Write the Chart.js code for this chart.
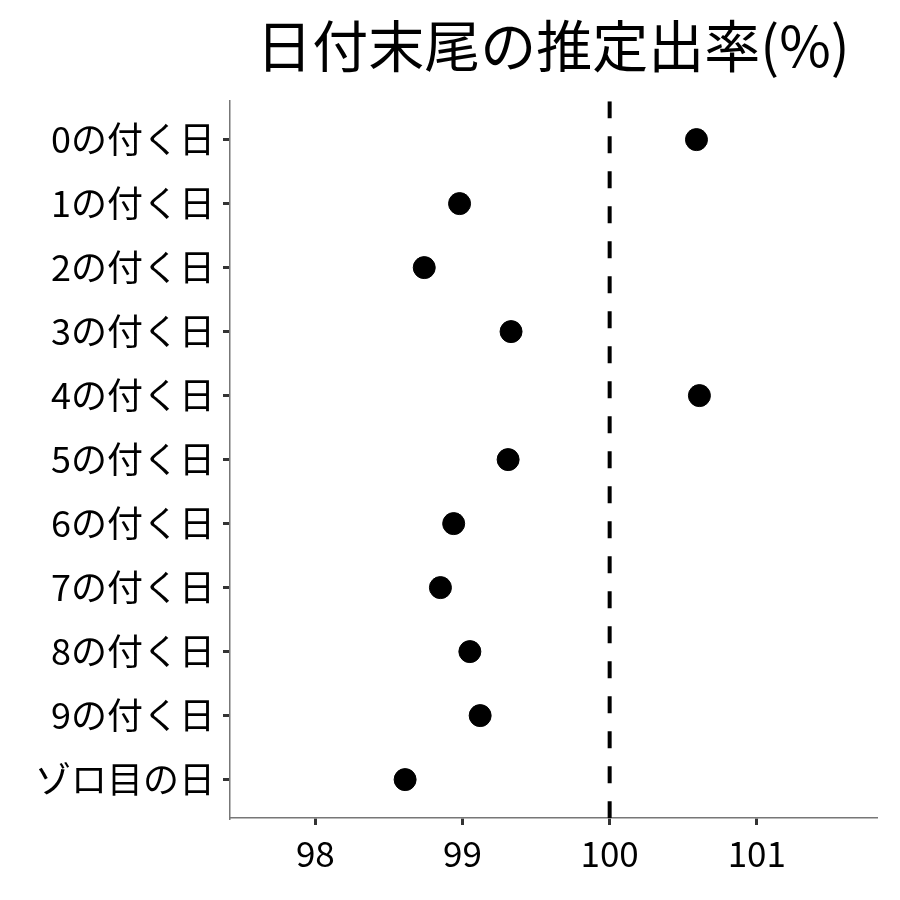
<!DOCTYPE html>
<html>
<head>
<meta charset="utf-8">
<script src="https://cdn.jsdelivr.net/npm/chart.js@4"></script>
<style>
  body { margin: 0; background: #fff; }
</style>
</head>
<body>
<canvas id="rateChart" width="900" height="900"></canvas>
<script>
const rateChart = document.getElementById('rateChart');

const categories = [
  '0の付く日', '1の付く日', '2の付く日', '3の付く日', '4の付く日', '5の付く日',
  '6の付く日', '7の付く日', '8の付く日', '9の付く日', 'ゾロ目の日'
];
const rates = [100.59, 98.98, 98.74, 99.33, 100.61, 99.31, 98.94, 98.85, 99.05, 99.12, 98.61];
const xTicks = [98, 99, 100, 101];
const refLine = 100;

const font = 'Noto Sans CJK JP';

// center the title over the plot panel instead of the whole canvas
const titleOverPanel = {
  id: 'titleOverPanel',
  afterLayout(chart) {
    if (chart.titleBlock) {
      chart.titleBlock.left = chart.chartArea.left;
      chart.titleBlock.right = chart.chartArea.right;
    }
  }
};

new Chart(rateChart, {
  type: 'scatter',
  data: {
    datasets: [
      {
        data: rates.map((v, i) => ({ x: v, y: i })),
        backgroundColor: '#000',
        borderColor: '#000',
        pointRadius: 11,
        pointHoverRadius: 11
      },
      {
        type: 'line',
        data: [{ x: refLine, y: -0.6 }, { x: refLine, y: categories.length - 0.4 }],
        borderColor: '#000',
        borderWidth: 4,
        borderDash: [17, 18],
        pointRadius: 0,
        fill: false
      }
    ]
  },
  options: {
    responsive: false,
    animation: false,
    layout: { padding: { right: 24, left: 0, bottom: 0 } },
    plugins: {
      legend: { display: false },
      tooltip: { enabled: false },
      title: {
        display: true,
        text: '日付末尾の推定出率(%)',
        color: '#000',
        font: { family: font, size: 56, weight: 'normal' },
        padding: { top: 12, bottom: 22 }
      }
    },
    scales: {
      x: {
        type: 'linear',
        min: 97.42,
        max: 101.81,
        afterBuildTicks: s => { s.ticks = xTicks.map(v => ({ value: v })); },
        afterFit: s => { s.height = 82; },
        ticks: {
          color: '#000',
          font: { family: font, size: 35 },
          padding: 8,
          callback: v => String(v)
        },
        grid: { drawOnChartArea: false, drawTicks: true, tickLength: 7, color: '#333', lineWidth: 3 },
        border: { color: '#777', width: 1.5 }
      },
      y: {
        type: 'linear',
        reverse: true,
        min: -0.6,
        max: categories.length - 0.4,
        afterBuildTicks: s => { s.ticks = categories.map((_, i) => ({ value: i })); },
        afterFit: s => { s.width = 230; },
        ticks: {
          color: '#000',
          font: { family: font, size: 36 },
          padding: 8,
          callback: v => categories[v]
        },
        grid: { drawOnChartArea: false, drawTicks: true, tickLength: 7, color: '#333', lineWidth: 3 },
        border: { color: '#777', width: 1.5 }
      }
    }
  },
  plugins: [titleOverPanel]
});
</script>
</body>
</html>
